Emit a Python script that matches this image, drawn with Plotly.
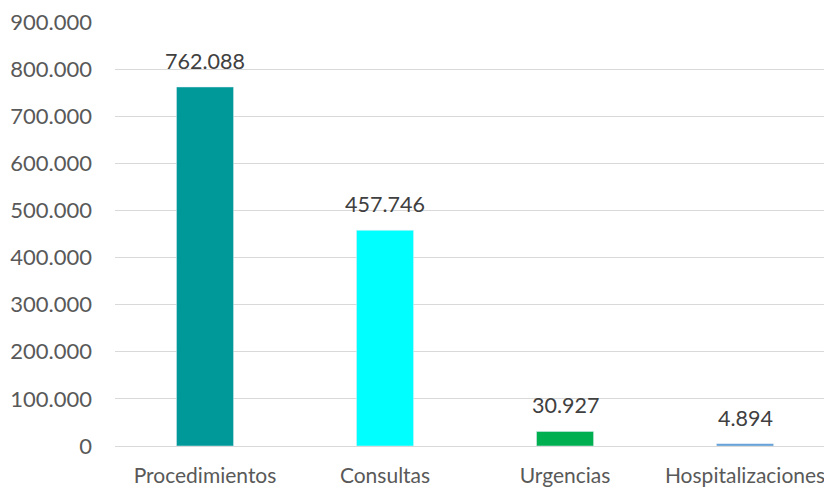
import plotly.graph_objects as go

# datos
categorias = ["Procedimientos", "Consultas", "Urgencias", "Hospitalizaciones"]
valores = [762088, 457746, 30927, 4894]
colores = ["#009999", "#00FFFF", "#00B050", "#5B9BD5"]

fig = go.Figure(go.Bar(
    x=categorias,
    y=valores,
    marker_color=colores,
    width=0.317,
))

# etiquetas de datos encima de cada barra
for c, v in zip(categorias, valores):
    fig.add_annotation(x=c, y=v, text=f"{v:,}".replace(",", "."),
                       showarrow=False, yanchor="middle", yshift=26,
                       font=dict(size=21.5, color="#404040"))

# la pagina tiene 8px de margen en el body
fig.update_layout(
    width=824, height=483,
    margin=dict(l=107, r=0, t=14, b=45),
    paper_bgcolor="white",
    plot_bgcolor="white",
    separators=",.",
    font=dict(family="Lato, Open Sans, sans-serif", size=22, color="#595959"),
    showlegend=False,
    xaxis=dict(range=[-0.5, 3.483], showgrid=False, zeroline=False, automargin=False,
               showline=False, ticks="", tickfont=dict(size=21, color="#595959")),
    yaxis=dict(range=[0, 900000], dtick=100000,
               tickformat=",d", automargin=False, ticklabeloverflow="allow",
               showgrid=True, gridcolor="#D9D9D9", gridwidth=1.3,
               zeroline=True, zerolinecolor="#D9D9D9", zerolinewidth=1.3,
               ticks="", ticklen=0, tickfont=dict(size=22, color="#595959")),
)
fig.update_yaxes(ticklabelstandoff=22)
fig.update_xaxes(ticklabelstandoff=15)

fig.write_html("out.html")
